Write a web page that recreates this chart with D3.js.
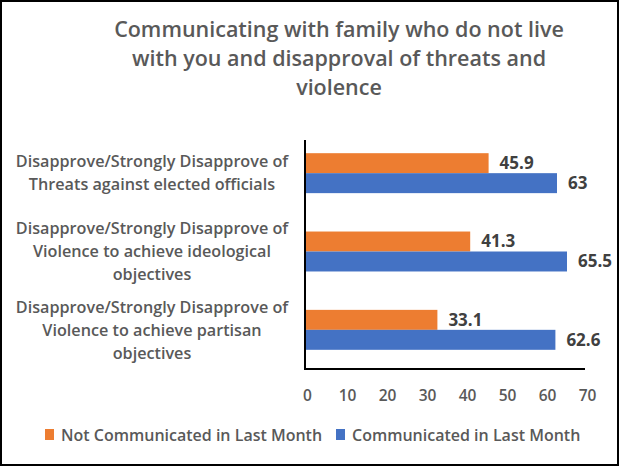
<!DOCTYPE html>
<html><head><meta charset="utf-8">
<script src="https://cdn.jsdelivr.net/npm/d3@7"></script>
<style>body{margin:0;background:#fff}svg{display:block}</style>
</head><body>
<script>
const titleLines = ["Communicating with family who do not live", "with you and disapproval of threats and", "violence"];
const categories = [
  ["Disapprove/Strongly Disapprove of", "Threats against elected officials"],
  ["Disapprove/Strongly Disapprove of", "Violence to achieve ideological", "objectives"],
  ["Disapprove/Strongly Disapprove of", "Violence to achieve partisan", "objectives"]
];
const seriesNames = ["Not Communicated in Last Month", "Communicated in Last Month"];
const notCommunicated = [45.9, 41.3, 33.1];
const communicated = [63, 65.5, 62.6];
const valueLabels = [["45.9", "41.3", "33.1"], ["63", "65.5", "62.6"]];
const xTicks = [0, 10, 20, 30, 40, 50, 60, 70];
const colors = ["#ED7D31", "#4472C4"];

const W = 619, H = 466;
const svg = d3.select("body").append("svg").attr("width", W).attr("height", H);
svg.append("rect").attr("x", 1).attr("y", 1).attr("width", W - 2).attr("height", H - 2)
  .attr("fill", "#fff").attr("stroke", "#000").attr("stroke-width", 2);

const font = "'Open Sans', sans-serif";
const grey = "#595959";

// title
svg.append("text").attr("text-anchor", "middle").attr("font-family", font)
  .attr("font-size", 21.5).attr("font-weight", 600).attr("fill", grey)
  .selectAll("tspan").data(titleLines).join("tspan")
  .attr("x", 339).attr("y", (d, i) => 37 + i * 29).text(d => d);

const x = d3.scaleLinear().domain([0, 70]).range([305, 585]);
const y = d3.scaleBand().domain(d3.range(categories.length)).range([134, 369]).paddingInner(0.49).paddingOuter(0.245);
const ySub = d3.scaleBand().domain([0, 1]).range([0, y.bandwidth()]);

const data = [notCommunicated, communicated];
const g = svg.append("g");
data.forEach((vals, s) => {
  g.selectAll(null).data(vals).join("rect")
    .attr("x", x(0)).attr("y", (d, i) => y(i) + ySub(s))
    .attr("width", d => x(d) - x(0)).attr("height", ySub.bandwidth())
    .attr("fill", colors[s]);
  g.selectAll(null).data(vals).join("text")
    .attr("x", d => x(d) + 11).attr("y", (d, i) => y(i) + ySub(s) + ySub.bandwidth() / 2)
    .attr("dy", "0.35em").attr("font-family", font).attr("font-size", 17).attr("font-weight", 700)
    .attr("fill", "#404040").text((d, i) => valueLabels[s][i]);
});

// category labels
categories.forEach((lines, i) => {
  const cy = y(i) + y.bandwidth() / 2;
  const t = svg.append("text").attr("text-anchor", "middle").attr("font-family", font)
    .attr("font-size", 16.2).attr("font-weight", 600).attr("fill", grey);
  lines.forEach((l, j) => {
    t.append("tspan").attr("x", 152).attr("y", cy + (j - (lines.length - 1) / 2) * 23).attr("dy", "0.35em").text(l);
  });
});

// axes
const xAxis = d3.axisBottom(x).tickValues(xTicks).tickSize(0).tickPadding(21);
const ax = svg.append("g").attr("transform", "translate(0,369)").call(xAxis);
ax.select(".domain").attr("stroke", "#000").attr("stroke-width", 2).attr("d", `M${x(0)},0H${x(70)}`);
ax.selectAll("text").attr("dx", 2).attr("font-family", font).attr("font-size", 15.5).attr("font-weight", 600).attr("fill", grey);
svg.append("line").attr("x1", x(0)).attr("x2", x(0)).attr("y1", 140).attr("y2", 370)
  .attr("stroke", "#000").attr("stroke-width", 2);

// legend
const legend = svg.append("g").attr("font-family", font).attr("font-size", 16).attr("fill", grey);
const legendX = [45, 336];
seriesNames.forEach((n, i) => {
  legend.append("rect").attr("x", legendX[i]).attr("y", 429).attr("width", 9).attr("height", 11).attr("fill", colors[i]);
  legend.append("text").attr("x", legendX[i] + 16).attr("y", 435).attr("dy", "0.35em").attr("font-weight", 600).attr("fill", grey).text(n);
});
</script>
</body></html>
